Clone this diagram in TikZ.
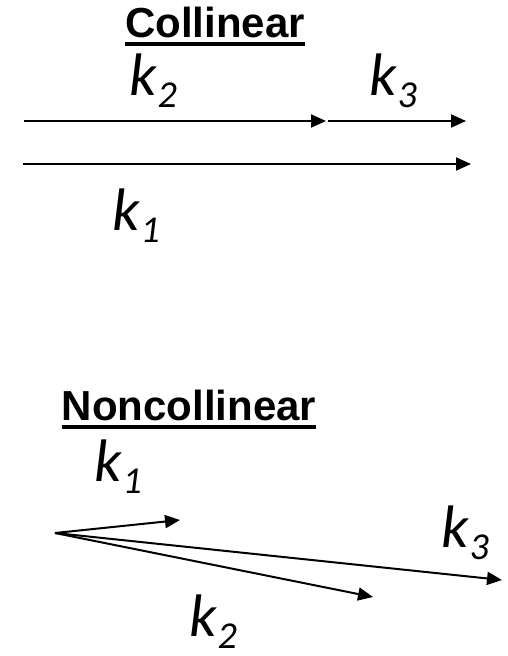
\documentclass[tikz,border=0pt]{standalone}
\usepackage{fontspec}
\setmainfont{Carlito}
\newfontfamily\arialfont{Liberation Sans}
\usetikzlibrary{arrows.meta}
\newcommand{\ulhead}[1]{\vtop{\hbox{\arialfont\bfseries #1}\kern5pt\hrule height 4pt}}
\newcommand{\kvec}[1]{\itshape k\kern1pt\raisebox{-12pt}{\fontsize{38}{38}\selectfont #1}}

\begin{document}
\begin{tikzpicture}[
    x=1pt, y=-1pt,
    vec/.style={-{Triangle[length=15pt,width=13pt]}, line width=2pt},
    title/.style={anchor=base, inner sep=0pt, font=\fontsize{42}{48}\selectfont},
    lbl/.style={anchor=base, inner sep=0pt, font=\fontsize{60}{66}\selectfont}
]
\useasboundingbox (0,0) rectangle (508,656);
% collinear case
\node[title] (coltitle) at (215,37) {\ulhead{Collinear}};
\coordinate (ca) at (24,121);
\coordinate (cb) at (326,121);
\coordinate (cc) at (328,121);
\coordinate (cd) at (466,121);
\coordinate (ce) at (23,164);
\coordinate (cf) at (471,164);
\draw[vec] (ca) -- (cb);
\draw[vec] (cc) -- (cd);
\draw[vec] (ce) -- (cf);
\node[lbl] (ck2) at (153,95) {\kvec{2}};
\node[lbl] (ck3) at (393,95) {\kvec{3}};
\node[lbl] (ck1) at (136,230) {\kvec{1}};
% noncollinear case
\node[title] (nctitle) at (189,420) {\ulhead{Noncollinear}};
\coordinate (o) at (55,533);
\coordinate (n1) at (180,520);
\coordinate (n2) at (373,597);
\coordinate (n3) at (502,580);
\draw[vec] (o) -- (n1);
\draw[vec] (o) -- (n2);
\draw[vec] (o) -- (n3);
\node[lbl] (nk1) at (118,481) {\kvec{1}};
\node[lbl] (nk3) at (465,547) {\kvec{3}};
\node[lbl] (nk2) at (213,636) {\kvec{2}};
\end{tikzpicture}
\end{document}
